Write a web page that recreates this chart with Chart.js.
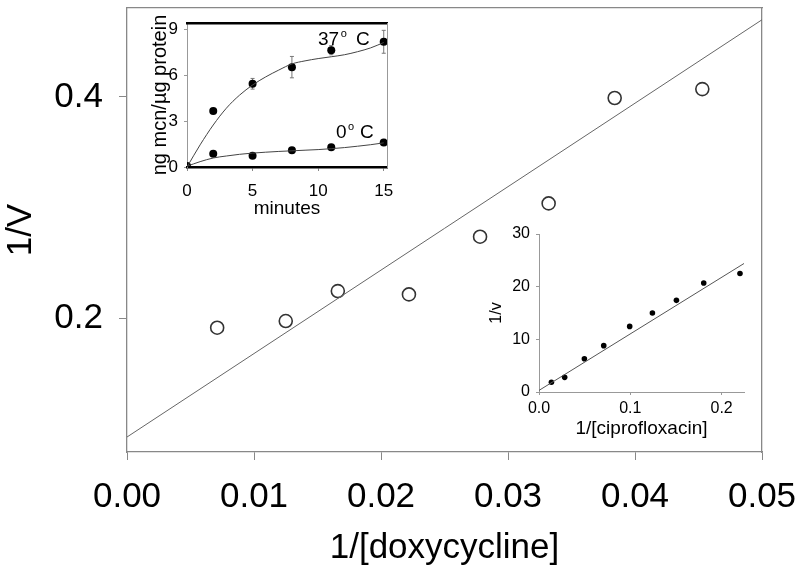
<!DOCTYPE html>
<html>
<head>
<meta charset="utf-8">
<script src="https://cdn.jsdelivr.net/npm/chart.js@4"></script>
<style>
  html, body { margin: 0; padding: 0; background: #fff; }
  #wrap { position: relative; width: 800px; height: 579px; }
  #wrap canvas { position: absolute; }
</style>
</head>
<body>
<div id="wrap">
  <canvas id="main" width="800" height="579" style="left:0;top:0"></canvas>
  <canvas id="uptake" width="260" height="220" style="left:140px;top:0"></canvas>
  <canvas id="cipro" width="290" height="220" style="left:480px;top:220px"></canvas>
</div>
<script>
// main plot: 1/V vs 1/[doxycycline]
const doxyX = [0.0071, 0.0125, 0.0166, 0.0222, 0.0278, 0.0332, 0.0384, 0.0453];
const doxyY = [0.192, 0.198, 0.225, 0.222, 0.274, 0.304, 0.399, 0.407];
const doxyFitX = [0, 0.05];
const doxyFitY = [0.0935, 0.4695];
const mainXTicks = [0, 0.01, 0.02, 0.03, 0.04, 0.05];
const mainYTicks = [0.2, 0.4];

// top-left inset: uptake over time
const minutes = [0, 2, 5, 8, 11, 15];
const uptake37 = [0.05, 3.67, 5.45, 6.54, 7.65, 8.2];
const err37 = [0, 0, 0.35, 0.7, 0.3, 0.75];
const uptake0 = [0.05, 0.87, 0.74, 1.1, 1.3, 1.6];
const curveMinutes = [0, 1, 2, 3, 4, 5, 6, 7, 8, 9, 10, 11, 12, 13, 14, 15];
const curve37 = [0, 1.45, 2.75, 3.85, 4.7, 5.37, 5.9, 6.35, 6.75, 6.95, 7.1, 7.22, 7.35, 7.55, 7.8, 8.15];
const curve0 = [0.05, 0.35, 0.59, 0.72, 0.83, 0.91, 0.97, 1.02, 1.06, 1.1, 1.14, 1.2, 1.27, 1.36, 1.46, 1.58];
const uptakeXTicks = [0, 5, 10, 15];
const uptakeYTicks = [0, 3, 6, 9];

// bottom-right inset: 1/v vs 1/[ciprofloxacin]
const ciproX = [0.0136, 0.0281, 0.0497, 0.0709, 0.0993, 0.1242, 0.1505, 0.1804, 0.2201];
const ciproY = [1.84, 2.78, 6.3, 8.8, 12.46, 15.0, 17.4, 20.7, 22.5];
const ciproFitX = [0, 0.2245];
const ciproFitY = [0.3, 24.4];
const ciproXTicks = [0, 0.1, 0.2];
const ciproYTicks = [0, 10, 20, 30];

const FONT = '"Liberation Sans", Arial, sans-serif';
Chart.defaults.font.family = FONT;
Chart.defaults.color = '#000';

function pts(xs, ys) {
    return xs.map((x, i) => ({ x: x, y: ys[i] }));
}
function fixTicks(list) {
    return s => { s.ticks = list.map(v => ({ value: v })); };
}
// fixed box size, and no label overflow padding so layout padding decides the plot area
function fixSize(size) {
    return s => {
        if (s.isHorizontal()) s.height = size; else s.width = size;
        s.paddingTop = s.paddingBottom = s.paddingLeft = s.paddingRight = 0;
    };
}
// plain frame axis, no ticks or labels
function frameAxis(position, min, max, color, width) {
    return {
        type: 'linear', position: position, min: min, max: max,
        ticks: { display: false },
        grid: { display: false, drawTicks: false },
        border: { color: color, width: width },
        afterFit: fixSize(0)
    };
}
const baseOpts = {
    responsive: false,
    animation: false,
    events: [],
    plugins: { legend: { display: false }, tooltip: { enabled: false } }
};

new Chart(document.getElementById('main'), {
    type: 'scatter',
    data: {
        datasets: [{
            data: pts(doxyFitX, doxyFitY),
            showLine: true,
            borderColor: '#666',
            borderWidth: 1,
            pointRadius: 0
        }, {
            data: pts(doxyX, doxyY),
            pointRadius: 6.5,
            borderColor: '#333',
            borderWidth: 1.6,
            backgroundColor: 'rgba(255,255,255,0)'
        }]
    },
    options: {
        ...baseOpts,
        layout: { padding: { top: 5, right: 38, left: 0, bottom: 0 } },
        scales: {
            x: {
                type: 'linear', position: 'bottom', min: 0, max: 0.05,
                afterBuildTicks: fixTicks(mainXTicks),
                afterFit: fixSize(127),
                ticks: { font: { size: 35 }, padding: 16, maxRotation: 0, autoSkip: false,
                         callback: v => v.toFixed(2) },
                grid: { drawOnChartArea: false, tickLength: 8, color: '#888' },
                border: { color: '#888', width: 1.3 },
                title: { display: true, text: '1/[doxycycline]', font: { size: 35 },
                         padding: { top: 0, bottom: 10 } }
            },
            y: {
                type: 'linear', position: 'left', min: 0.08, max: 0.48,
                afterBuildTicks: fixTicks(mainYTicks),
                afterFit: fixSize(127),
                ticks: { font: { size: 35 }, padding: 16, callback: v => v.toFixed(1) },
                grid: { drawOnChartArea: false, tickLength: 8, color: '#888' },
                border: { color: '#888', width: 1.3 },
                title: { display: true, text: '1/V', font: { size: 35 }, padding: 0 }
            },
            xTop: frameAxis('top', 0, 0.05, '#888', 1.3),
            yRight: frameAxis('right', 0.08, 0.48, '#888', 1.3)
        }
    }
});

const errorBars = {
    id: 'errorBars',
    beforeDatasetsDraw(chart) {
        const { ctx, scales: { x, y } } = chart;
        ctx.save();
        ctx.strokeStyle = '#777';
        ctx.lineWidth = 1;
        minutes.forEach((m, i) => {
            if (!err37[i]) return;
            const px = x.getPixelForValue(m);
            const top = y.getPixelForValue(uptake37[i] + err37[i]);
            const bot = y.getPixelForValue(uptake37[i] - err37[i]);
            ctx.beginPath();
            ctx.moveTo(px, top); ctx.lineTo(px, bot);
            ctx.moveTo(px - 2, top); ctx.lineTo(px + 2, top);
            ctx.moveTo(px - 2, bot); ctx.lineTo(px + 2, bot);
            ctx.stroke();
        });
        ctx.restore();
    }
};

function tempLabel(ctx, x, y, num, cOffset) {
    ctx.font = '19px ' + FONT;
    ctx.fillText(num, x, y);
    const w = ctx.measureText(num).width;
    ctx.font = '11px ' + FONT;
    ctx.fillText('o', x + w + 1.5, y - 8);
    ctx.font = '19px ' + FONT;
    ctx.fillText('C', x + cOffset, y);
}
const tempLabels = {
    id: 'tempLabels',
    afterDraw(chart) {
        const ctx = chart.ctx;
        ctx.save();
        ctx.fillStyle = '#000';
        ctx.textBaseline = 'alphabetic';
        ctx.textAlign = 'left';
        tempLabel(ctx, 178, 45, '37', 38);
        tempLabel(ctx, 196, 137.5, '0', 24);
        ctx.restore();
    }
};

new Chart(document.getElementById('uptake'), {
    type: 'scatter',
    data: {
        datasets: [{
            data: pts(curveMinutes, curve37),
            showLine: true, borderColor: '#444', borderWidth: 1,
            pointRadius: 0, cubicInterpolationMode: 'monotone'
        }, {
            data: pts(curveMinutes, curve0),
            showLine: true, borderColor: '#444', borderWidth: 1,
            pointRadius: 0, cubicInterpolationMode: 'monotone'
        }, {
            data: pts(minutes, uptake37),
            pointRadius: 4, backgroundColor: '#000', borderColor: '#000', borderWidth: 0
        }, {
            data: pts(minutes, uptake0),
            pointRadius: 4, backgroundColor: '#000', borderColor: '#000', borderWidth: 0
        }]
    },
    options: {
        ...baseOpts,
        layout: { padding: { top: 23, right: 13, left: 0, bottom: 0 } },
        scales: {
            x: {
                type: 'linear', position: 'bottom', min: 0, max: 15.25,
                afterBuildTicks: fixTicks(uptakeXTicks),
                afterFit: fixSize(53),
                ticks: { font: { size: 17 }, padding: 10, maxRotation: 0, autoSkip: false },
                grid: { drawOnChartArea: false, tickLength: 4, color: '#888' },
                border: { color: '#000', width: 2.5 },
                title: { display: true, text: 'minutes', font: { size: 19 }, padding: 0 }
            },
            y: {
                type: 'linear', position: 'left', min: 0, max: 9.43,
                afterBuildTicks: fixTicks(uptakeYTicks),
                afterFit: fixSize(47),
                ticks: { font: { size: 17 }, padding: 6 },
                grid: { drawOnChartArea: false, tickLength: 3, color: '#999' },
                border: { color: '#999', width: 1 },
                title: { display: true, text: 'ng mcn/µg protein', font: { size: 20 },
                         padding: { top: 8, bottom: 0 } }
            },
            xTop: frameAxis('top', 0, 15.25, '#000', 2.5),
            yRight: frameAxis('right', 0, 9.43, '#999', 1)
        }
    },
    plugins: [errorBars, tempLabels]
});

new Chart(document.getElementById('cipro'), {
    type: 'scatter',
    data: {
        datasets: [{
            data: pts(ciproFitX, ciproFitY),
            showLine: true, borderColor: '#555', borderWidth: 1, pointRadius: 0
        }, {
            data: pts(ciproX, ciproY),
            pointRadius: 2.8, backgroundColor: '#000', borderColor: '#000', borderWidth: 0
        }]
    },
    options: {
        ...baseOpts,
        layout: { padding: { top: 14, right: 26, left: 0, bottom: 0 } },
        scales: {
            x: {
                type: 'linear', position: 'bottom', min: 0, max: 0.2245,
                afterBuildTicks: fixTicks(ciproXTicks),
                afterFit: fixSize(48),
                ticks: { font: { size: 16 }, padding: 4, maxRotation: 0, autoSkip: false,
                         callback: v => v.toFixed(1) },
                grid: { drawOnChartArea: false, tickLength: 3, color: '#999' },
                border: { color: '#999', width: 1 },
                title: { display: true, text: '1/[ciprofloxacin]', font: { size: 19 }, padding: 0 }
            },
            y: {
                type: 'linear', position: 'left', min: 0, max: 30,
                afterBuildTicks: fixTicks(ciproYTicks),
                afterFit: fixSize(59),
                ticks: { font: { size: 16 }, padding: 6 },
                grid: { drawOnChartArea: false, tickLength: 3, color: '#999' },
                border: { color: '#999', width: 1 },
                title: { display: true, text: '1/v', font: { size: 16 }, padding: { top: 7, bottom: 0 } }
            }
        }
    }
});
</script>
</body>
</html>
